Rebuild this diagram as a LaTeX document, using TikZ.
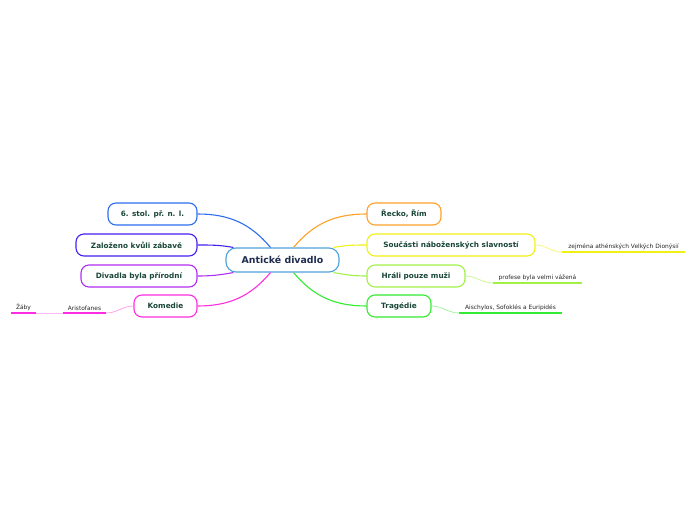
\documentclass[tikz,border=0pt]{standalone}
\usepackage{fontspec}
\setmainfont{DejaVu Sans}
\usetikzlibrary{positioning}
\definecolor{HubBlue}{RGB}{80,160,220}
\definecolor{HubText}{RGB}{30,45,80}
\definecolor{TopText}{RGB}{25,70,55}
\definecolor{MOrange}{RGB}{255,160,40}
\definecolor{MYellow}{RGB}{240,240,20}
\definecolor{MLime}{RGB}{160,240,70}
\definecolor{MGreen}{RGB}{50,235,50}
\definecolor{MBlue}{RGB}{45,110,240}
\definecolor{MIndigo}{RGB}{70,30,240}
\definecolor{MPurple}{RGB}{175,45,240}
\definecolor{MMagenta}{RGB}{255,45,225}

\begin{document}
\begin{tikzpicture}[x=1pt,y=1pt,
  hub/.style={draw=HubBlue,rounded corners=10pt,line width=1.1pt,fill=white,minimum width=113pt,minimum height=24pt,font=\fontsize{9.4}{10}\selectfont\bfseries,text=HubText},
  topic/.style={draw,rounded corners=8pt,line width=1.1pt,fill=white,minimum height=22pt,inner xsep=0pt,font=\fontsize{7.3}{8}\selectfont\bfseries,text=TopText},
  leaf/.style={anchor=south,inner xsep=0pt,inner ysep=2.5pt,font=\fontsize{5.9}{6}\selectfont,text=black!85},
  link/.style={line width=1.1pt},
  twig/.style={line width=0.8pt},
  bar/.style={line width=1.7pt}]
\useasboundingbox (0,0) rectangle (696,520);

\node[hub] (ant) at (282.5,260) {Antické divadlo};

% right side
\node[topic,draw=MOrange,minimum width=74pt] (rec) at (404,306) {Řecko, Řím};
\node[topic,draw=MYellow,minimum width=168pt] (sou) at (451,275) {Součásti náboženských slavností};
\node[topic,draw=MLime,minimum width=98pt] (hra) at (416,244) {Hráli pouze muži};
\node[topic,draw=MGreen,minimum width=64pt] (tra) at (399,214) {Tragédie};

% left side
\node[topic,draw=MBlue,minimum width=89pt] (sto) at (152.5,306) {6. stol. př. n. l.};
\node[topic,draw=MIndigo,minimum width=121pt] (zal) at (136.5,275) {Založeno kvůli zábavě};
\node[topic,draw=MPurple,minimum width=116pt] (div) at (139,244) {Divadla byla přírodní};
\node[topic,draw=MMagenta,minimum width=63pt] (kom) at (165.5,214) {Komedie};

% connectors from the centre
\draw[link,MOrange] ([xshift=11pt]ant.north) to[out=50,in=180] (rec.west);
\draw[link,MYellow] ([xshift=-6pt]ant.north east) to[out=10,in=180] (sou.west);
\draw[link,MLime] ([xshift=-6pt]ant.south east) to[out=-10,in=180] (hra.west);
\draw[link,MGreen] ([xshift=11pt]ant.south) to[out=-50,in=180] (tra.west);
\draw[link,MBlue] ([xshift=-12pt]ant.north) to[out=130,in=0] (sto.east);
\draw[link,MIndigo] ([xshift=8pt]ant.north west) to[out=170,in=0] (zal.east);
\draw[link,MPurple] ([xshift=8pt]ant.south west) to[out=190,in=0] (div.east);
\draw[link,MMagenta] ([xshift=-12pt]ant.south) to[out=230,in=0] (kom.east);

% leaves
\node[leaf,minimum width=123pt] (zej) at (623.5,268) {zejména athénských Velkých Dionýsií};
\node[leaf,minimum width=89pt] (pro) at (537.5,237) {profese byla velmi vážená};
\node[leaf,minimum width=103pt] (ais) at (510.5,207) {Aischylos, Sofoklés a Euripidés};
\node[leaf,minimum width=43pt] (ari) at (84.5,207) {Aristofanes};
\node[leaf,minimum width=25pt] (zab) at (23.5,207) {Žáby};

\draw[twig,MYellow!55] (sou.east) to[out=0,in=180] (zej.south west);
\draw[twig,MLime!55] (hra.east) to[out=0,in=180] (pro.south west);
\draw[twig,MGreen!45] (tra.east) to[out=0,in=180] (ais.south west);
\draw[twig,MMagenta!45] (kom.west) to[out=180,in=0] (ari.south east);
\draw[twig,MMagenta!35] (ari.south west) -- (zab.south east);

\draw[bar,MYellow] (zej.south west) -- (zej.south east);
\draw[bar,MLime] (pro.south west) -- (pro.south east);
\draw[bar,MGreen] (ais.south west) -- (ais.south east);
\draw[bar,MMagenta] (ari.south west) -- (ari.south east);
\draw[bar,MMagenta] (zab.south west) -- (zab.south east);
\end{tikzpicture}
\end{document}
